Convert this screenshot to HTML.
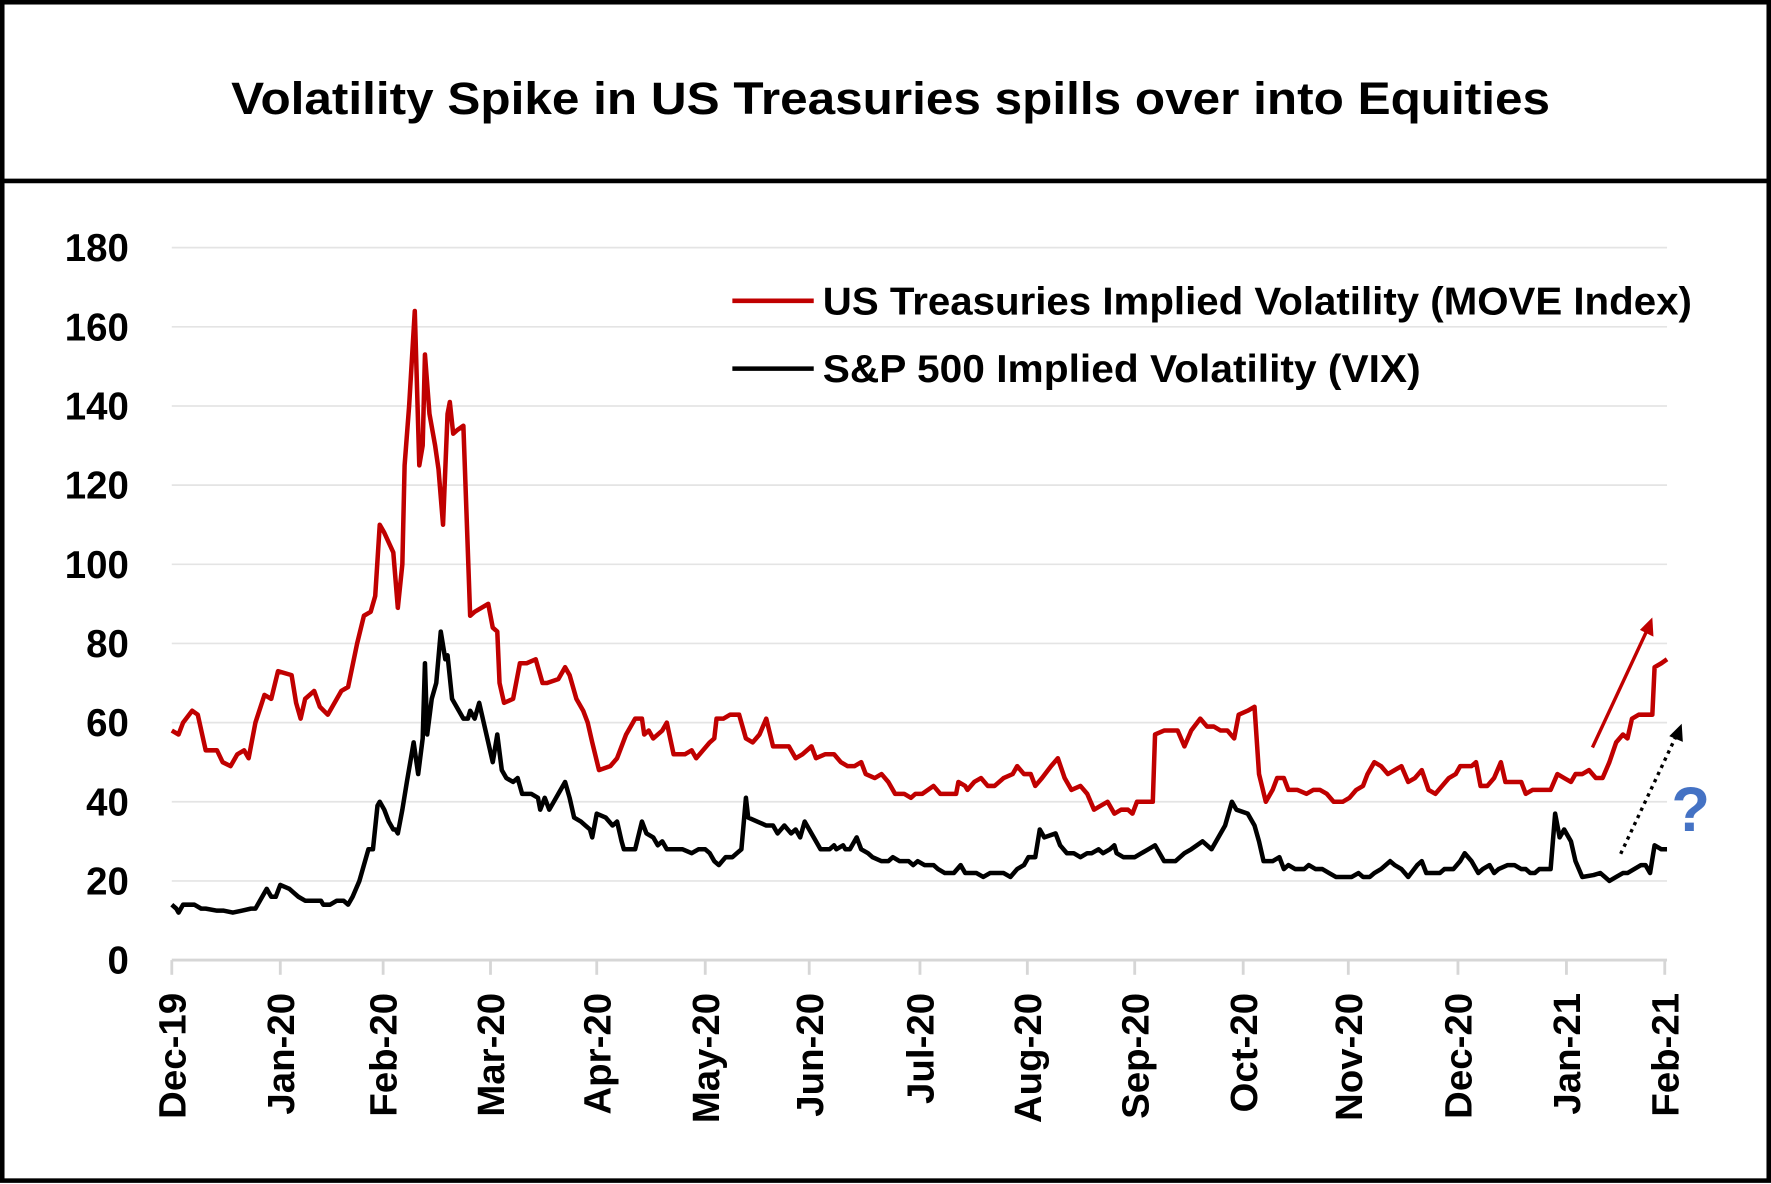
<!DOCTYPE html>
<html><head><meta charset="utf-8"><style>
html,body{margin:0;padding:0;background:#fff;}
svg{display:block;}
</style></head><body>
<svg id="s" width="1771" height="1184" viewBox="0 0 1567 1047" preserveAspectRatio="none" xmlns="http://www.w3.org/2000/svg">
<rect x="2" y="2" width="1563" height="1042" fill="#fff" stroke="#000" stroke-width="4"/>
<line x1="0" y1="160" x2="1567" y2="160" stroke="#000" stroke-width="4"/>
<text x="788" y="101" text-anchor="middle" font-family="Liberation Sans, sans-serif" font-weight="bold" font-size="40" textLength="1167" lengthAdjust="spacingAndGlyphs">Volatility Spike in US Treasuries spills over into Equities</text>
<g id="grid" stroke="#e4e4e4" stroke-width="1.5"></g>
<g id="ylab" font-family="Liberation Sans, sans-serif" font-weight="bold" font-size="34" text-anchor="end"></g>
<g id="xax" stroke="#d6d6d6" stroke-width="2.5" fill="none"></g>
<g id="xlab" font-family="Liberation Sans, sans-serif" font-weight="bold" font-size="34" text-anchor="end"></g>
<polyline id="move" fill="none" stroke="#c00000" stroke-width="4" stroke-linejoin="round"/>
<polyline id="vix" fill="none" stroke="#000" stroke-width="4" stroke-linejoin="round"/>
<line x1="1409" y1="661" x2="1457" y2="558" stroke="#c00000" stroke-width="3"/>
<polygon points="1462,546 1463,563 1451,557" fill="#c00000"/>
<line x1="1434" y1="755" x2="1483" y2="651" stroke="#000" stroke-width="3" stroke-dasharray="3,4"/>
<polygon points="1488,640 1489,656 1477,651" fill="#000"/>
<text x="1496" y="735" text-anchor="middle" font-family="Liberation Sans, sans-serif" font-weight="bold" font-size="56" fill="#4472c4">?</text>
<line x1="648" y1="266" x2="720" y2="266" stroke="#c00000" stroke-width="4"/>
<text x="728" y="278" font-family="Liberation Sans, sans-serif" font-weight="bold" font-size="34" textLength="769" lengthAdjust="spacingAndGlyphs">US Treasuries Implied Volatility (MOVE Index)</text>
<line x1="648" y1="326" x2="720" y2="326" stroke="#000" stroke-width="4"/>
<text x="728" y="338" font-family="Liberation Sans, sans-serif" font-weight="bold" font-size="34" textLength="529" lengthAdjust="spacingAndGlyphs">S&amp;P 500 Implied Volatility (VIX)</text>
</svg>
<script>
var NS="http://www.w3.org/2000/svg";
function Y(v){return 849-v*3.5;}
function el(p,t,a,txt){var e=document.createElementNS(NS,t);for(var k in a)e.setAttribute(k,a[k]);if(txt!=null)e.textContent=txt;document.getElementById(p).appendChild(e);}
for(var v=20;v<=180;v+=20){el("grid","line",{x1:152,x2:1475,y1:Y(v),y2:Y(v)});}
for(var v=0;v<=180;v+=20){el("ylab","text",{x:114,y:Y(v)+12},String(v));}
el("xax","line",{x1:152,x2:1475,y1:849,y2:849});
var tx=[152,248,339,434,528,624,716,814,909,1004,1100,1193,1290,1386,1473];
var tl=["Dec-19","Jan-20","Feb-20","Mar-20","Apr-20","May-20","Jun-20","Jul-20","Aug-20","Sep-20","Oct-20","Nov-20","Dec-20","Jan-21","Feb-21"];
for(var i=0;i<tx.length;i++){el("xax","line",{x1:tx[i],x2:tx[i],y1:849,y2:862});
el("xlab","text",{x:0,y:0,transform:"translate("+(tx[i]+12)+",878) rotate(-90)"},tl[i]);}
var mv="152:58,158:57,162:60,170:63,175:62,182:53,192:53,197:50,204:49,210:52,216:53,220:51,226:60,234:67,240:66,246:73,258:72,262:65,266:61,270:66,278:68,283:64,290:62,296:65,302:68,308:69,316:80,322:87,328:88,332:92,336:110,340:108,348:103,352:89,356:100,358:125,362:140,367:164,371:125,374:130,376:153,380:138,385:130,388:124,392:110,396:138,398:141,401:133,405:134,410:135,416:87,420:88,426:89,432:90,436:84,440:83,442:70,446:65,454:66,460:75,466:75,474:76,480:70,484:70,494:71,500:74,504:72,510:66,516:63,520:60,524:55,530:48,540:49,546:51,554:57,562:61,568:61,570:57,574:58,578:56,586:58,590:60,596:52,606:52,612:53,616:51,622:53,628:55,632:56,634:61,640:61,646:62,654:62,660:56,666:55,672:57,678:61,684:54,692:54,698:54,704:51,710:52,718:54,722:51,730:52,738:52,744:50,750:49,756:49,762:50,766:47,774:46,780:47,786:45,792:42,800:42,806:41,810:42,816:42,826:44,832:42,838:42,846:42,848:45,854:44,856:43,862:45,868:46,874:44,880:44,888:46,896:47,900:49,906:47,912:47,916:44,922:46,930:49,936:51,942:46,948:43,956:44,962:42,968:38,974:39,980:40,986:37,992:38,998:38,1002:37,1006:40,1014:40,1020:40,1022:57,1030:58,1038:58,1042:58,1048:54,1054:58,1062:61,1068:59,1074:59,1080:58,1086:58,1092:56,1096:62,1104:63,1110:64,1114:47,1120:40,1126:43,1130:46,1136:46,1140:43,1148:43,1156:42,1162:43,1168:43,1174:42,1180:40,1188:40,1194:41,1200:43,1206:44,1210:47,1216:50,1222:49,1228:47,1234:48,1240:49,1246:45,1252:46,1258:48,1264:43,1270:42,1276:44,1282:46,1288:47,1292:49,1302:49,1306:50,1310:44,1316:44,1322:46,1328:50,1332:45,1340:45,1346:45,1350:42,1356:43,1366:43,1372:43,1378:47,1384:46,1390:45,1394:47,1400:47,1406:48,1412:46,1418:46,1424:50,1430:55,1436:57,1440:56,1444:61,1450:62,1458:62,1462:62,1464:74,1470:75,1475:76";
var vx="152:14,156:13,158:12,162:14,172:14,178:13,182:13,192:12.5,198:12.5,206:12,214:12.5,222:13,226:13,232:16,236:18,240:16,244:16,248:19,256:18,260:17,264:16,270:15,276:15,284:15,286:14,292:14,298:15,304:15,308:14,312:16,318:20,326:28,330:28,334:39,336:40,340:38,344:35,348:33,350:33,352:32,356:38,360:45,366:55,370:47,374:56,376:75,378:57,382:66,386:70,390:83,394:76,396:77,400:66,406:63,410:61,414:61,416:63,420:61,424:65,428:60,432:55,436:50,440:57,444:48,448:46,454:45,458:46,462:42,470:42,476:41,478:38,482:41,486:38,494:42,500:45,504:41,508:36,514:35,518:34,522:33,524:31,528:37,536:36,542:34,546:35,550:30,552:28,562:28,568:35,572:32,578:31,582:29,586:30,590:28,596:28,604:28,612:27,618:28,624:28,628:27,632:25,636:24,642:26,648:26,652:27,656:28,660:41,662:36,670:35,678:34,684:34,688:32,694:34,700:32,704:33,708:31,712:35,716:33,720:31,726:28,734:28,738:29,740:28,746:29,748:28,752:28,758:31,762:28,768:27,772:26,780:25,786:25,790:26,796:25,804:25,808:24,812:25,818:24,826:24,830:23,836:22,844:22,850:24,854:22,864:22,870:21,876:22,888:22,894:21,900:23,906:24,910:26,916:26,920:33,924:31,934:32,938:29,944:27,950:27,956:26,962:27,966:27,972:28,976:27,982:28,986:29,988:27,994:26,1004:26,1010:27,1016:28,1022:29,1030:25,1040:25,1048:27,1054:28,1064:30,1072:28,1078:31,1084:34,1090:40,1094:38,1104:37,1110:34,1114:30,1118:25,1126:25,1132:26,1136:23,1140:24,1146:23,1154:23,1158:24,1164:23,1170:23,1176:22,1182:21,1190:21,1196:21,1202:22,1206:21,1212:21,1216:22,1222:23,1230:25,1234:24,1240:23,1246:21,1254:24,1258:25,1262:22,1266:22,1274:22,1278:23,1286:23,1292:25,1296:27,1302:25,1308:22,1312:23,1318:24,1322:22,1326:23,1334:24,1340:24,1346:23,1350:23,1354:22,1358:22,1362:23,1366:23,1372:23,1376:37,1380:31,1384:33,1390:30,1394:25,1400:21,1410:21.5,1416:22,1420:21,1424:20,1430:21,1436:22,1440:22,1446:23,1452:24,1456:24,1460:22,1464:29,1470:28,1475:28";
function pts(s){return s.split(",").map(function(p){var a=p.split(":");return a[0]+","+Y(+a[1]).toFixed(1);}).join(" ");}
document.getElementById("move").setAttribute("points",pts(mv));
document.getElementById("vix").setAttribute("points",pts(vx));
</script>
</body></html>
